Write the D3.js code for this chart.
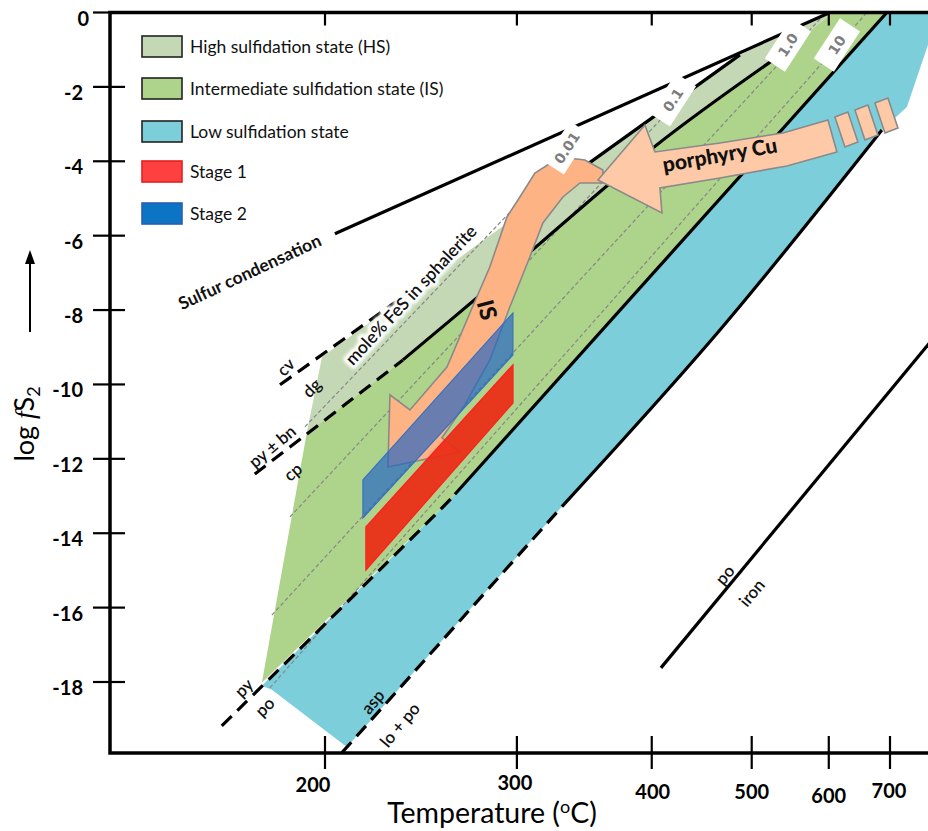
<!DOCTYPE html>
<html>
<head>
<meta charset="utf-8">
<title>Sulfidation state diagram</title>
<script src="https://cdn.jsdelivr.net/npm/d3@7"></script>
<style>
  body { margin: 0; background: #fff; }
  svg { display: block; font-family: Lato, "Open Sans", sans-serif; }
</style>
</head>
<body>
<svg id="chart" width="928" height="831"></svg>
<script>
// axes: temperature in °C (plotted as 1000/T), log fS2
const tempTicks = [200, 300, 400, 500, 600, 700];
const fs2Ticks = [0, -2, -4, -6, -8, -10, -12, -14, -16, -18];

// fields, points are [T °C, log fS2]
const hsField = [[192.3, -11.30], [198.7, -9.26], [486.7, -1.14], [601.7, 0], [606.1, 0],
  [525.2, -1.28], [401.0, -3.64], [276.4, -7.65], [236.1, -9.34]];
const isField = [[174.3, -18.02], [192.3, -11.30], [236.1, -9.34], [276.4, -7.65], [401.0, -3.64],
  [525.2, -1.28], [606.1, 0], [694.4, 0], [260.6, -13.105]];
const lsField = [[174.3, -18.10], [178.2, -18.21], [209.6, -19.745], [465.1, -8.535], [685.5, -3.159],
  [731.8, -2.540], [774.3, -0.874], [800.3, 0], [694.4, 0], [260.6, -13.105]];

// reaction lines; dashed below dashTo, solid above solidFrom (°C)
const sulfurLine = [[204.3, -5.95], [601.7, 0]];
const cvDgLine = [[181.4, -10.01], [486.7, -1.14]];
const pyBnLine = [[171.6, -12.41], [236.1, -9.34], [276.4, -7.65], [401.0, -3.64], [525.2, -1.28]];
const pyPoLine = [[159.4, -19.18], [260.6, -13.105], [694.4, 0]];
const aspLine = [[207.4, -19.9], [465.1, -8.535], [685.5, -3.159]];
const poIronLine = [[408.1, -17.62], [800, -8.55]];
const dashTo = [null, 239.6, 236.1, 263.4, 332.0, null];
const solidFrom = [null, 314.9, 236.1, 263.4, 332.0, null];

// mole% FeS in sphalerite isopleths
const isoValues = ["0.01", "0.1", "1.0", "10"];
const isopleths = [
  [[191.5, -11.14], [328.5, -3.965]],
  [[185.4, -13.56], [411.7, -2.755]],
  [[178.2, -16.20], [595.8, 0]],
  [[177.4, -18.16], [659.7, 0]]
];
const isoLabelAt = [[333.4, -3.64], [419.0, -2.35], [544.0, -0.874], [612.1, -0.874]];

// fluid paths
const isArrow = [[228.7, -12.218], [266.1, -11.815], [256.3, -11.438], [268.9, -10.551], [283.4, -9.341],
  [295.6, -7.917], [308.3, -6.573], [316.9, -5.659], [330.6, -4.960], [342.8, -4.583], [360.0, -4.583],
  [360.0, -4.234], [346.4, -3.965], [328.5, -3.884], [311.6, -4.315], [301.9, -4.960], [293.8, -5.497],
  [283.4, -6.841], [271.8, -8.078], [259.0, -9.530], [239.6, -10.685], [229.7, -10.282]];
const porphyryArrow = [[356.2, -4.503], [394.1, -3.024], [402.8, -3.750], [465.1, -3.508], [537.6, -3.239],
  [598.8, -2.890], [612.1, -3.750], [542.7, -4.126], [465.1, -4.449], [407.2, -4.718], [409.0, -5.390]];
const porphyryTail = [
  [[609.1, -2.809], [629.0, -2.675], [644.9, -3.481], [624.3, -3.616]],
  [[640.1, -2.621], [661.4, -2.487], [678.5, -3.293], [656.4, -3.427]],
  [[673.3, -2.433], [696.2, -2.298], [714.7, -3.105], [690.9, -3.239]]
];

// vein stages
const stage1 = [[218.3, -13.83], [297.5, -9.476], [297.5, -10.497], [218.3, -14.987]];
const stage2 = [[216.9, -12.567], [297.5, -8.078], [297.5, -9.207], [216.9, -13.589]];

// annotations [text, T, log fS2]
const notes = [
  ["Sulfur condensation", 169.7, -6.976],
  ["mole% FeS in sphalerite", 240.1, -7.594],
  ["cv", 183.7, -9.530],
  ["dg", 194.4, -10.094],
  ["py ± bn", 178.4, -11.669],
  ["cp", 186.6, -12.352],
  ["py", 167.5, -18.159],
  ["po", 175.5, -18.669],
  ["asp", 221.5, -18.535],
  ["lo + po", 234.6, -19.153],
  ["po", 470.4, -15.121],
  ["iron", 500.2, -15.605],
  ["IS", 281.7, -7.997],
  ["porphyry Cu", 465.1, -3.831]
];

const legendLabels = ["High sulfidation state (HS)", "Intermediate sulfidation state (IS)",
  "Low sulfidation state", "Stage 1", "Stage 2"];

// ---------------- drawing ----------------
const svg = d3.select("#chart");
const frame = { left: 110, top: 12.5, right: 945, bottom: 753 };

const inv = t => 1000 / (t + 273);
const x = d3.scaleLinear().domain([inv(200), inv(700)]).range([325, 890]);
const y = d3.scaleLinear().domain([0, -18]).range([12.5, 682]);
const sx = t => x(inv(t));

const line = d3.line().x(d => sx(d[0])).y(d => y(d[1]));
const curve = d3.line().x(d => sx(d[0])).y(d => y(d[1])).curve(d3.curveCatmullRom);
const shape = d3.line().x(d => sx(d[0])).y(d => y(d[1])).curve(d3.curveLinearClosed);

// cut a polyline at temperature t (interpolated on screen)
function splitAt(pts, t) {
  const lo = [], hi = [];
  pts.forEach((p, i) => {
    if (p[0] <= t) { lo.push(p); return; }
    if (!hi.length && i > 0) {
      const q = pts[i - 1];
      const k = (sx(t) - sx(q[0])) / (sx(p[0]) - sx(q[0]));
      const m = [t, q[1] + k * (p[1] - q[1])];
      lo.push(m); hi.push(m);
    }
    hi.push(p);
  });
  return [lo, hi];
}

const defs = svg.append("defs");
defs.append("clipPath").attr("id", "plot-clip")
  .append("rect")
  .attr("x", frame.left).attr("y", frame.top)
  .attr("width", frame.right - frame.left).attr("height", frame.bottom - frame.top);
defs.append("filter").attr("id", "glow")
  .attr("x", "-20%").attr("y", "-20%").attr("width", "140%").attr("height", "140%")
  .append("feGaussianBlur").attr("stdDeviation", 1.6);

const plot = svg.append("g").attr("clip-path", "url(#plot-clip)");

// fields
plot.selectAll(".field")
  .data([[lsField, "#7ccfda"], [isField, "#aed38b"], [hsField, "#c4d8b5"]])
  .join("path")
  .attr("class", "field")
  .attr("d", d => shape(d[0]))
  .attr("fill", d => d[1]);

// isopleths
plot.selectAll(".iso")
  .data(isopleths)
  .join("path")
  .attr("class", "iso")
  .attr("d", line)
  .attr("fill", "none")
  .attr("stroke", "#878787")
  .attr("stroke-width", 1.2)
  .attr("stroke-dasharray", "4 2.5");

// reaction boundaries
const boundaries = [sulfurLine, cvDgLine, pyBnLine, pyPoLine, aspLine, poIronLine];
boundaries.forEach((pts, i) => {
  let dashed = [], solid = pts;
  if (dashTo[i] != null) {
    dashed = splitAt(pts, dashTo[i])[0];
    solid = splitAt(pts, solidFrom[i])[1];
  }
  if (dashed.length > 1) {
    plot.append("path").attr("d", curve(dashed))
      .attr("fill", "none").attr("stroke", "#000").attr("stroke-width", 3.2)
      .attr("stroke-dasharray", "14 8");
  }
  plot.append("path").attr("d", curve(solid))
    .attr("fill", "none").attr("stroke", "#000").attr("stroke-width", 3.2);
});

// IS and porphyry arrows
plot.append("path").attr("d", shape(isArrow))
  .attr("fill", "#fdb383").attr("stroke", "#8a8a8a").attr("stroke-width", 1.6);
plot.append("path").attr("d", shape(porphyryArrow))
  .attr("fill", "#fdc9a6").attr("stroke", "#8a8a8a").attr("stroke-width", 1.6);
plot.selectAll(".tail")
  .data(porphyryTail)
  .join("path")
  .attr("class", "tail")
  .attr("d", shape)
  .attr("fill", "#fdc9a6").attr("stroke", "#8a8a8a").attr("stroke-width", 1.6);

// stages
plot.append("path").attr("d", shape(stage2))
  .attr("fill", "#2264c4").attr("fill-opacity", 0.68)
  .attr("stroke", "#3a6fc0").attr("stroke-width", 1.2);
plot.append("path").attr("d", shape(stage1))
  .attr("fill", "#ec2a15").attr("fill-opacity", 0.92)
  .attr("stroke", "#ff2020").attr("stroke-width", 1.4);

// isopleth value tags
const tags = plot.selectAll(".tag")
  .data(isoValues)
  .join("g")
  .attr("class", "tag")
  .attr("transform", (d, i) => `translate(${sx(isoLabelAt[i][0])},${y(isoLabelAt[i][1])}) rotate(-57)`);
tags.append("rect")
  .attr("x", -24).attr("y", -12).attr("width", 48).attr("height", 24)
  .attr("fill", "#fff");
tags.append("text")
  .attr("text-anchor", "middle")
  .attr("dy", "0.36em")
  .style("font-family", "'DejaVu Sans', sans-serif")
  .style("font-weight", "bold")
  .style("font-size", "14px")
  .attr("fill", "#7d7d7d")
  .text(d => d);

// annotation styles: rotation, size, weight
const noteStyle = [
  [-25, 17.5, 700], [-47, 17.5, 600], [-45, 17, 600], [-45, 17, 600], [-40, 17, 600], [-40, 17, 600],
  [-45, 17, 600], [-45, 17, 600], [-50, 17, 600], [-50, 17, 600], [-50, 17, 600], [-50, 17, 600],
  [75, 23, 900], [-10, 21, 900]
];
const noteG = svg.selectAll(".note")
  .data(notes)
  .join("g")
  .attr("class", "note")
  .attr("transform", (d, i) => `translate(${sx(d[1])},${y(d[2])}) rotate(${noteStyle[i][0]})`);
noteG.filter(d => d[0].startsWith("mole"))
  .append("text")
  .attr("text-anchor", "middle").attr("dy", "0.35em")
  .style("font-size", "17.5px").style("font-weight", 600)
  .attr("fill", "#fff").attr("stroke", "#fff").attr("stroke-width", 7)
  .attr("stroke-linejoin", "round")
  .attr("filter", "url(#glow)")
  .text(d => d[0]);
noteG.append("text")
  .attr("text-anchor", "middle").attr("dy", "0.35em")
  .style("font-size", (d, i) => noteStyle[i][1] + "px")
  .style("font-weight", (d, i) => noteStyle[i][2])
  .attr("fill", "#111")
  .text(d => d[0]);

// frame
svg.append("rect")
  .attr("x", frame.left).attr("y", frame.top)
  .attr("width", frame.right - frame.left).attr("height", frame.bottom - frame.top)
  .attr("fill", "none").attr("stroke", "#000").attr("stroke-width", 3.5);

// y ticks (cross the axis)
svg.selectAll(".ytick")
  .data(fs2Ticks)
  .join("line")
  .attr("class", "ytick")
  .attr("x1", frame.left - 17).attr("x2", frame.left + 15)
  .attr("y1", d => y(d)).attr("y2", d => y(d))
  .attr("stroke", "#000").attr("stroke-width", 2.2);
svg.selectAll(".ylab")
  .data(fs2Ticks)
  .join("text")
  .attr("class", "ylab")
  .attr("x", d => d === 0 ? 89 : 83)
  .attr("y", d => y(d) + 13)
  .attr("text-anchor", "end")
  .style("font-size", "20px").style("font-weight", 700)
  .text(d => String(d));

// x ticks: bottom crosses the axis, top points inward
svg.selectAll(".xtick")
  .data(tempTicks)
  .join("line")
  .attr("class", "xtick")
  .attr("x1", d => sx(d)).attr("x2", d => sx(d))
  .attr("y1", frame.bottom - 17).attr("y2", frame.bottom + 16)
  .attr("stroke", "#000").attr("stroke-width", 2.2);
svg.selectAll(".xtick-top")
  .data(tempTicks)
  .join("line")
  .attr("class", "xtick-top")
  .attr("x1", d => sx(d)).attr("x2", d => sx(d))
  .attr("y1", frame.top).attr("y2", frame.top + 13)
  .attr("stroke", "#000").attr("stroke-width", 2.2);
const xLabShift = { 200: [-12, 792], 300: [-2, 790], 400: [1, 799], 500: [0, 799], 600: [0, 803], 700: [-1, 798] };
svg.selectAll(".xlab")
  .data(tempTicks)
  .join("text")
  .attr("class", "xlab")
  .attr("x", d => sx(d) + xLabShift[d][0])
  .attr("y", d => xLabShift[d][1])
  .attr("text-anchor", "middle")
  .style("font-size", "20px").style("font-weight", 700)
  .text(d => d);

// axis titles
const xt = svg.append("text")
  .attr("x", 492).attr("y", 823)
  .attr("text-anchor", "middle")
  .style("font-size", "28.5px");
xt.append("tspan").text("Temperature (");
xt.append("tspan").attr("dy", -10).style("font-size", "18px").text("o");
xt.append("tspan").attr("dy", 10).text("C)");

const yt = svg.append("text")
  .attr("transform", "translate(34,424) rotate(-90)")
  .attr("text-anchor", "middle")
  .style("font-size", "27px");
yt.append("tspan").text("log ");
yt.append("tspan").style("font-family", "'Liberation Serif', serif").style("font-style", "italic").text("f");
yt.append("tspan").text("S");
yt.append("tspan").attr("dy", 6).style("font-size", "18px").text("2");

svg.append("line")
  .attr("x1", 30).attr("x2", 30).attr("y1", 332).attr("y2", 262)
  .attr("stroke", "#000").attr("stroke-width", 2);
svg.append("path")
  .attr("d", "M30,250 L25,264 L35,264 Z")
  .attr("fill", "#000");

// legend
const legendFill = ["#c4d8b5", "#aed38b", "#7ccfda", "#ff4040", "#0b74c4"];
const legendStroke = ["#222", "#222", "#222", "#e81e1e", "#2a5fb0"];
const legendTop = [36, 78, 121, 161, 203];
const lg = svg.selectAll(".lg")
  .data(legendLabels)
  .join("g")
  .attr("class", "lg")
  .attr("transform", (d, i) => `translate(142,${legendTop[i]})`);
lg.append("rect")
  .attr("width", 40).attr("height", 21)
  .attr("fill", (d, i) => legendFill[i])
  .attr("stroke", (d, i) => legendStroke[i])
  .attr("stroke-width", 1.6);
lg.append("text")
  .attr("x", 48).attr("y", 17)
  .style("font-size", "17.5px")
  .attr("fill", "#111")
  .text(d => d);
</script>
</body>
</html>
